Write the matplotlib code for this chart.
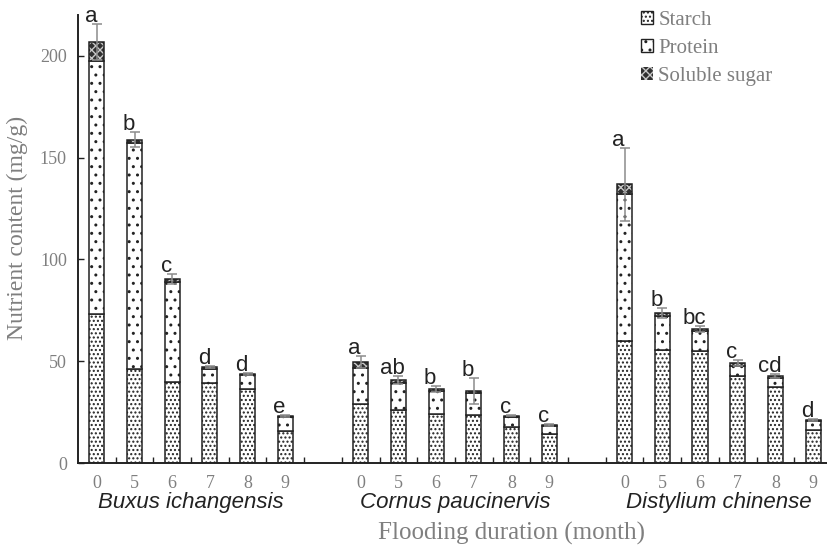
import matplotlib
matplotlib.use("Agg")
import matplotlib.pyplot as plt
from matplotlib.patches import Patch
import numpy as np

# ---- data ----
months = ["0", "5", "6", "7", "8", "9"]
species = ["Buxus ichangensis", "Cornus paucinervis", "Distylium chinense"]

starch_B = [73.0, 46.0, 39.7, 39.2, 36.4, 15.9]
protein_B = [124.5, 111.2, 49.2, 7.0, 6.7, 6.7]
sugar_B = [9.2, 1.5, 1.5, 0.8, 0.6, 0.5]
err_B = [9.0, 3.6, 2.5, 0.5, 0.5, 0.4]
letters_B = ["a", "b", "c", "d", "d", "e"]

starch_C = [29.0, 25.9, 24.1, 23.7, 17.9, 14.1]
protein_C = [17.5, 13.4, 11.3, 10.7, 4.7, 3.9]
sugar_C = [3.0, 1.5, 1.0, 1.0, 0.7, 0.7]
err_C = [3.0, 2.0, 1.3, 6.2, 0.4, 0.3]
letters_C = ["a", "ab", "b", "b", "c", "c"]

starch_D = [60.1, 55.7, 54.9, 42.8, 37.5, 16.2]
protein_D = [72.1, 16.4, 9.8, 5.0, 4.3, 4.4]
sugar_D = [4.6, 1.5, 1.0, 1.2, 1.0, 0.5]
err_D = [18.0, 2.3, 1.6, 1.6, 1.0, 0.3]
letters_D = ["a", "b", "bc", "c", "cd", "d"]

yticks = [0, 50, 100, 150, 200]

groups = [
    (starch_B, protein_B, sugar_B, err_B, letters_B),
    (starch_C, protein_C, sugar_C, err_C, letters_C),
    (starch_D, protein_D, sugar_D, err_D, letters_D),
]

GREY = "#7f7f7f"
EDGE = "#222222"
SUGAR_FACE = "#303030"
SERIF = "Liberation Serif"
SANS = "Liberation Sans"
plt.rcParams["hatch.linewidth"] = 1.0

fig = plt.figure(figsize=(8.27, 5.49), dpi=100)
ax = fig.add_axes([78 / 827, 1 - 463 / 549, 1 - 78 / 827, (463 - 15) / 549])

bw = 0.4
lw = 1.1
all_pos = []
for g, (st, pr, su, er, le) in enumerate(groups):
    pos = np.arange(len(months)) + g * (len(months) + 1)
    all_pos.extend(pos)
    st = np.array(st); pr = np.array(pr); su = np.array(su)
    ax.bar(pos, st, bw, color="white", edgecolor=EDGE, linewidth=lw,
           hatch="....", zorder=2)
    ax.bar(pos, pr, bw, bottom=st, color="white", edgecolor=EDGE,
           linewidth=lw, hatch="..", zorder=2)
    # soluble sugar: dark fill with light hatch, then outline
    plt.rcParams["hatch.color"] = "#c8c8c8"
    ax.bar(pos, su, bw, bottom=st + pr, color=SUGAR_FACE, linewidth=0,
           hatch="xxxx", zorder=2)
    plt.rcParams["hatch.color"] = "black"
    ax.bar(pos, su, bw, bottom=st + pr, fill=False, edgecolor=EDGE,
           linewidth=lw, zorder=2.1)
    tot = st + pr + su
    ax.errorbar(pos, tot, yerr=er, fmt="none", ecolor="#8c8c8c",
                elinewidth=1.1, capsize=3.3, capthick=1.1, zorder=3)
    for p, t, e, l in zip(pos, tot, er, le):
        ax.annotate(l, (p, t + e), xytext=(-4.3, 1.6), textcoords="offset points",
                    ha="center", va="baseline", fontsize=16, family=SANS,
                    color=EDGE)
    ax.text(pos.mean(), -0.1004, species[g], transform=ax.get_xaxis_transform(),
            ha="center", va="baseline", fontsize=16, style="italic",
            family=SANS, color=EDGE)

ax.set_xlim(-0.5, 19.37)
ax.set_ylim(0, 220)
ax.set_xticks(all_pos)
ax.set_xticklabels(months * 3, family=SERIF, fontsize=13, color=GREY)
ax.set_xticks(np.arange(0.5, 19, 1.0), minor=True)
ax.tick_params(axis="x", which="major", length=0, pad=8.5)
ax.tick_params(axis="x", which="minor", direction="in", length=4.5, width=1.0,
               color=EDGE)
ax.set_yticks(yticks)
ax.set_yticklabels([str(v) for v in yticks], family=SERIF, fontsize=13, color=GREY)
ax.tick_params(axis="y", direction="in", length=4, width=1.0, color=EDGE, pad=8)
for s in ["top", "right"]:
    ax.spines[s].set_visible(False)
for s in ["left", "bottom"]:
    ax.spines[s].set_linewidth(1.4)
    ax.spines[s].set_color(EDGE)

fig.text(512 / 827, 1 - 540 / 549, "Flooding duration (month)", ha="center",
         va="baseline", fontsize=18, family=SERIF, color=GREY)
fig.text(17 / 827, 1 - 228 / 549, "Nutrient content (mg/g)", ha="center",
         va="center", rotation=90, fontsize=17, family=SERIF, color=GREY)

plt.rcParams["hatch.color"] = "#c8c8c8"
sugar_handle = Patch(facecolor=SUGAR_FACE, hatch="xxxx", linewidth=0)
plt.rcParams["hatch.color"] = "black"
handles = [
    Patch(facecolor="white", edgecolor=EDGE, hatch="....", linewidth=1.0),
    Patch(facecolor="white", edgecolor=EDGE, hatch="..", linewidth=1.0),
    sugar_handle,
]
leg = fig.legend(handles, ["Starch", "Protein", "Soluble sugar"],
                 loc="upper left", bbox_to_anchor=(641 / 827, 1 - 11 / 549),
                 frameon=False, handlelength=0.58, handleheight=0.58,
                 handletextpad=0.25, labelspacing=0.42, borderpad=0,
                 borderaxespad=0, prop={"family": SERIF, "size": 15})
for t in leg.get_texts():
    t.set_color(GREY)

fig.savefig("out.png", dpi=100)
